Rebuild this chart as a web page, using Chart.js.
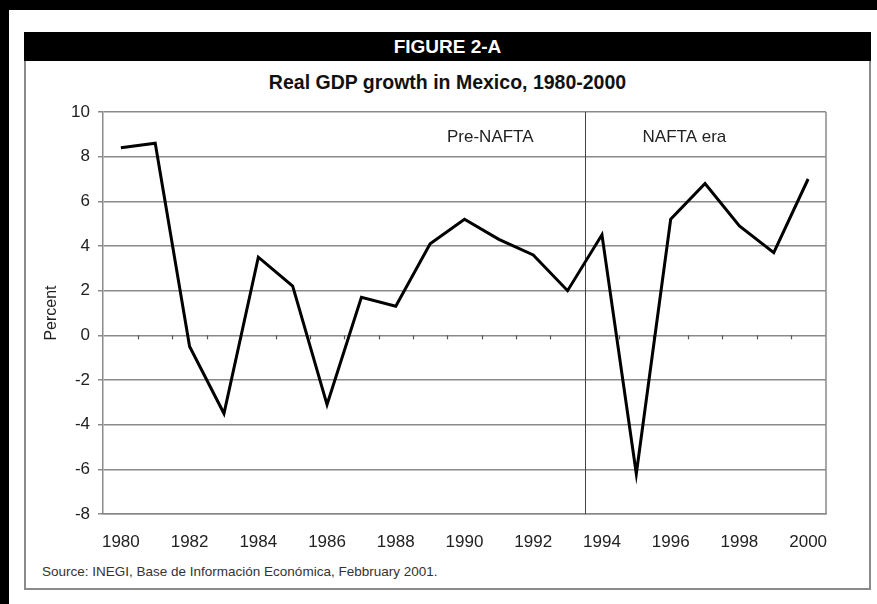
<!DOCTYPE html>
<html>
<head>
<meta charset="utf-8">
<script src="https://cdn.jsdelivr.net/npm/chart.js@4"></script>
<style>
body { margin: 0; background: #000; width: 877px; height: 604px; overflow: hidden; font-family: "Liberation Sans", Arial, sans-serif; }
#panel { position: absolute; left: 9px; top: 10px; right: 0; bottom: 0; background: #fff; }
#head { position: absolute; left: 24px; top: 32px; width: 847px; height: 29px; background: #000; color: #fff; font-weight: bold; font-size: 19px; text-align: center; line-height: 29px; }
#box { position: absolute; left: 24px; top: 61px; width: 843px; height: 527px; border: 2px solid #8a8a8a; border-top: none; }
#title { position: absolute; left: 24px; width: 847px; top: 71px; text-align: center; font-weight: bold; font-size: 19.5px; color: #111; }
#source { position: absolute; left: 42px; top: 564px; font-size: 13.5px; color: #333; }
canvas { position: absolute; left: 0; top: 0; }
</style>
</head>
<body>
<div id="panel"></div>
<div id="head">FIGURE 2-A</div>
<div id="box"></div>
<div id="title">Real GDP growth in Mexico, 1980-2000</div>
<div id="source">Source: INEGI, Base de Información Económica, Febbruary 2001.</div>
<canvas id="chart" width="877" height="604"></canvas>
<script>
// values
const years = [1980, 1981, 1982, 1983, 1984, 1985, 1986, 1987, 1988, 1989, 1990,
               1991, 1992, 1993, 1994, 1995, 1996, 1997, 1998, 1999, 2000];
const gdpGrowth = [8.4, 8.6, -0.5, -3.5, 3.5, 2.2, -3.1, 1.7, 1.3, 4.1, 5.2,
                   4.3, 3.6, 2.0, 4.5, -6.2, 5.2, 6.8, 4.9, 3.7, 7.0];
const yearTicks = [1980, 1982, 1984, 1986, 1988, 1990, 1992, 1994, 1996, 1998, 2000];
const percentTicks = [-8, -6, -4, -2, 0, 2, 4, 6, 8, 10];

// NAFTA divider and the two period labels
const naftaStart = 1993.5;
const periodNames = ['Pre-NAFTA', 'NAFTA era'];
const periodX = [1990.75, 1996.4];
const periodY = 8.85;

const gridGray = '#8a8a8a';
const fontFamily = '"Liberation Sans", Arial, sans-serif';

const extras = {
    id: 'extras',
    beforeDatasetsDraw(c) {
        const ctx = c.ctx;
        const area = c.chartArea;
        const xs = c.scales.x;
        const ys = c.scales.y;
        ctx.save();
        // right edge of plot
        ctx.strokeStyle = gridGray;
        ctx.lineWidth = 1.5;
        ctx.beginPath();
        ctx.moveTo(area.right, area.top);
        ctx.lineTo(area.right, area.bottom);
        ctx.stroke();
        // divider
        const dx = Math.round(xs.getPixelForValue(naftaStart)) + 0.5;
        ctx.strokeStyle = '#444';
        ctx.lineWidth = 1;
        ctx.beginPath();
        ctx.moveTo(dx, area.top);
        ctx.lineTo(dx, area.bottom);
        ctx.stroke();
        // small ticks on the zero line between years
        const y0 = ys.getPixelForValue(0);
        ctx.strokeStyle = '#555';
        ctx.lineWidth = 1.2;
        for (let i = 0; i < years.length - 1; i++) {
            const tx = Math.round(xs.getPixelForValue(years[i] + 0.5)) + 0.5;
            ctx.beginPath();
            ctx.moveTo(tx, y0);
            ctx.lineTo(tx, y0 + 4);
            ctx.stroke();
        }
        // period labels
        ctx.fillStyle = '#222';
        ctx.font = '17px ' + fontFamily;
        ctx.textAlign = 'center';
        ctx.textBaseline = 'middle';
        periodNames.forEach((name, i) => {
            ctx.fillText(name, xs.getPixelForValue(periodX[i]), ys.getPixelForValue(periodY));
        });
        ctx.restore();
    }
};

new Chart(document.getElementById('chart'), {
    type: 'line',
    data: {
        datasets: [{
            label: 'Real GDP growth',
            data: years.map((yr, i) => ({ x: yr, y: gdpGrowth[i] })),
            borderColor: '#000',
            borderWidth: 3,
            pointRadius: 0,
            tension: 0,
            clip: false
        }]
    },
    options: {
        responsive: false,
        animation: false,
        devicePixelRatio: 1,
        layout: { padding: { left: 0, right: 51, top: 112, bottom: 0 } },
        plugins: {
            legend: { display: false },
            tooltip: { enabled: false }
        },
        scales: {
            x: {
                type: 'linear',
                min: 1979.48,
                max: 2000.52,
                afterBuildTicks: s => { s.ticks = yearTicks.map(v => ({ value: v })); },
                afterFit: s => { s.height = 90; },
                grid: { display: false, drawTicks: false },
                border: { display: true, color: gridGray, width: 1.5 },
                ticks: {
                    padding: 18,
                    maxRotation: 0,
                    autoSkip: false,
                    color: '#222',
                    font: { family: fontFamily, size: 17 },
                    callback: v => String(v)
                }
            },
            y: {
                min: -8,
                max: 10,
                afterBuildTicks: s => { s.ticks = percentTicks.map(v => ({ value: v })); },
                afterFit: s => { s.width = 103; },
                grid: { color: gridGray, lineWidth: 1.5, tickLength: 5 },
                border: { display: true, color: gridGray, width: 1.5 },
                ticks: {
                    padding: 8,
                    color: '#222',
                    font: { family: fontFamily, size: 17 }
                },
                title: {
                    display: true,
                    text: 'Percent',
                    color: '#222',
                    padding: { top: 42 },
                    font: { family: fontFamily, size: 16 }
                }
            }
        }
    },
    plugins: [extras]
});
</script>
</body>
</html>
